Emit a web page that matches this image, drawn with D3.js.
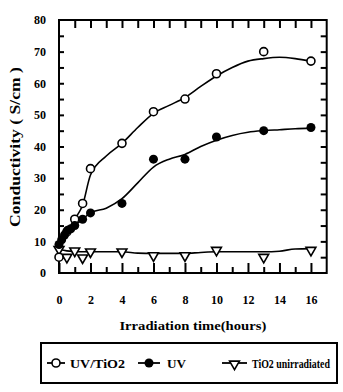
<!DOCTYPE html>
<meta charset="utf-8">
<style>
body { margin: 0; background: #fff; }
text { font-family: "Liberation Serif", "Times New Roman", serif; font-weight: bold; fill: #000; }
</style>
<body>
<svg id="chart" width="343" height="392"></svg>
<script src="https://cdnjs.cloudflare.com/ajax/libs/d3/7.8.5/d3.min.js"></script>
<script>

// measured points
var uvTio2Time = [0, 0.5, 1, 1.5, 2, 4, 6, 8, 10, 13, 16];
var uvTio2Val  = [5, 13, 17, 22, 33, 41, 51, 55, 63, 70, 67];

var uvTime = [0, 0.17, 0.35, 0.55, 0.75, 1, 1.5, 2, 4, 6, 8, 10, 13, 16];
var uvVal  = [9, 10.5, 12, 13.5, 14, 15, 17, 19, 22, 36, 36, 43, 45, 46];

var tio2Time = [0, 0.5, 1, 1.5, 2, 4, 6, 8, 10, 13, 16];
var tio2Val  = [7.5, 5, 7, 4.8, 6.7, 6.7, 5.5, 5.5, 7.2, 5, 7.2];

// fitted curves drawn through the points
var fitTime   = [0, 0.5, 1, 1.5, 2, 3, 4, 5, 6, 7, 8, 9, 10, 11, 12, 13, 14, 15, 16];
var fitUvTio2 = [8, 12.5, 17, 21.5, 31, 37, 41, 46, 50.5, 53, 55.5, 59, 62.3, 65, 67, 67.8, 68.2, 67.8, 67];
var fitUv     = [9, 13, 15, 17, 19, 20.5, 23.5, 28.5, 33.5, 36, 37.5, 40, 42, 43.5, 44.5, 45, 45.3, 45.6, 45.8];
var fitTio2   = [7.5, 7, 6.8, 6.7, 6.7, 6.7, 6.7, 6.3, 6.2, 6.2, 6.2, 6.5, 6.7, 6.7, 6.7, 6.7, 6.9, 7.6, 7.7];

var xTicks = [0, 2, 4, 6, 8, 10, 12, 14, 16];
var yTicks = [0, 10, 20, 30, 40, 50, 60, 70, 80];

var legendNames = ["UV/TiO2", "UV", "TiO2 unirradiated"];

var margin = {top: 20, left: 59},
    width = 267.7,
    height = 253;

var svg = d3.select("#chart");
var g = svg.append("g").attr("transform", "translate(" + margin.left + "," + margin.top + ")");

var x = d3.scaleLinear().domain([0, 17]).range([0, width]);
var y = d3.scaleLinear().domain([0, 80]).range([height, 0]);

// axes, ticks pointing inward
g.append("g").attr("class", "axis")
  .attr("transform", "translate(0," + height + ")")
  .call(d3.axisBottom(x).tickValues(xTicks).tickSize(-10).tickPadding(22).tickSizeOuter(0));
g.append("g").attr("class", "axis")
  .attr("transform", "translate(0," + height + ")")
  .call(d3.axisBottom(x).tickValues(d3.range(1, 17, 2)).tickSize(-6).tickFormat("").tickSizeOuter(0));
g.append("g").attr("class", "axis")
  .call(d3.axisTop(x).tickValues(d3.range(1, 17)).tickSize(-8).tickFormat("").tickSizeOuter(0));
g.append("g").attr("class", "axis")
  .call(d3.axisLeft(y).tickValues(d3.range(5, 80, 5)).tickSize(-5).tickPadding(13)
        .tickFormat(d => yTicks.indexOf(d) >= 0 ? d : "").tickSizeOuter(0));
g.append("g").attr("class", "axis")
  .call(d3.axisLeft(y).tickValues([0, 80]).tickSize(0).tickPadding(13).tickSizeOuter(0));
g.append("g").attr("class", "axis")
  .attr("transform", "translate(" + width + ",0)")
  .call(d3.axisRight(y).tickValues(d3.range(5, 80, 5)).tickSize(-6).tickFormat("").tickSizeOuter(0));

g.selectAll(".axis .domain").remove();
g.selectAll(".axis line").attr("stroke", "#000").attr("stroke-width", 2);
g.selectAll(".axis text").style("font-size", "12px").attr("fill", "#000");

g.append("rect")
  .attr("width", width).attr("height", height)
  .attr("fill", "none").attr("stroke", "#000").attr("stroke-width", 2);

// fitted lines
var line = d3.line().x(d => x(d[0])).y(d => y(d[1])).curve(d3.curveMonotoneX);
[fitUvTio2, fitUv, fitTio2].forEach(function(vals) {
  g.append("path")
    .datum(fitTime.map((t, i) => [t, vals[i]]))
    .attr("d", line)
    .attr("fill", "none").attr("stroke", "#000").attr("stroke-width", 1.6);
});

var tri = d3.symbol().type(d3.symbolTriangle).size(42);

// markers
g.selectAll(".tri").data(tio2Time.map((t, i) => [t, tio2Val[i]])).enter()
  .append("path").attr("class", "tri")
  .attr("d", tri)
  .attr("transform", d => "translate(" + x(d[0]) + "," + y(d[1]) + ") rotate(180)")
  .attr("fill", "#fff").attr("stroke", "#000").attr("stroke-width", 1.6);

g.selectAll(".open").data(uvTio2Time.map((t, i) => [t, uvTio2Val[i]])).enter()
  .append("circle").attr("class", "open")
  .attr("cx", d => x(d[0])).attr("cy", d => y(d[1])).attr("r", 4)
  .attr("fill", "#fff").attr("stroke", "#000").attr("stroke-width", 1.6);

g.selectAll(".filled").data(uvTime.map((t, i) => [t, uvVal[i]])).enter()
  .append("circle").attr("class", "filled")
  .attr("cx", d => x(d[0])).attr("cy", d => y(d[1])).attr("r", 4.5)
  .attr("fill", "#000");

// squeeze a text horizontally to a given width (the source font is condensed)
function fitText(sel, w) {
  var n = sel.node().getComputedTextLength();
  var t = sel.attr("data-t");
  sel.attr("transform", t + " scale(" + (w / n) + ",1)");
}

// axis titles
var xt = svg.append("text")
  .attr("data-t", "translate(" + (margin.left + width / 2) + ",330)")
  .attr("text-anchor", "middle").style("font-size", "13px")
  .text("Irradiation time(hours)");
fitText(xt, 147);

var yt = svg.append("text")
  .attr("data-t", "translate(20,147) rotate(-90)")
  .attr("text-anchor", "middle").style("font-size", "14px")
  .text("Conductivity (  S/cm )");
fitText(yt, 160);

// legend
var lg = svg.append("g");
lg.append("rect").attr("x", 41).attr("y", 343).attr("width", 296).attr("height", 40)
  .attr("fill", "none").attr("stroke", "#000").attr("stroke-width", 2);

var items = [
  {name: legendNames[0], x0: 47, x1: 65, tx: 70, w: 55},
  {name: legendNames[1], x0: 138, x1: 160, tx: 167, w: 19},
  {name: legendNames[2], x0: 222, x1: 247, tx: 252, w: 78}
];
var ly = 363;
items.forEach(function(it, i) {
  lg.append("line").attr("x1", it.x0).attr("x2", it.x1).attr("y1", ly).attr("y2", ly)
    .attr("stroke", "#000").attr("stroke-width", 1.8);
  var cx = (it.x0 + it.x1) / 2;
  if (i == 0) lg.append("circle").attr("cx", cx).attr("cy", ly).attr("r", 4)
    .attr("fill", "#fff").attr("stroke", "#000").attr("stroke-width", 1.6);
  if (i == 1) lg.append("circle").attr("cx", cx).attr("cy", ly).attr("r", 4.5).attr("fill", "#000");
  if (i == 2) lg.append("path").attr("d", tri)
    .attr("transform", "translate(" + cx + "," + (ly + 1) + ") rotate(180)")
    .attr("fill", "#fff").attr("stroke", "#000").attr("stroke-width", 1.6);
  var tx = lg.append("text")
    .attr("data-t", "translate(" + it.tx + "," + (ly + 4.5) + ")")
    .style("font-size", "13px")
    .text(it.name);
  fitText(tx, it.w);
});
</script>
